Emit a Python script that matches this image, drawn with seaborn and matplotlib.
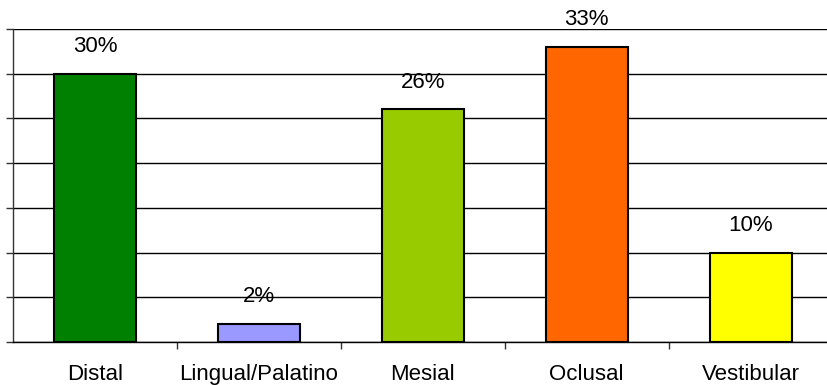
import matplotlib
matplotlib.use("Agg")
import matplotlib.pyplot as plt
import seaborn as sns
import pandas as pd
from matplotlib.ticker import MultipleLocator, FixedLocator

categories = ["Distal", "Lingual/Palatino", "Mesial", "Oclusal", "Vestibular"]
values = [30, 2, 26, 33, 10]
labels = ["30%", "2%", "26%", "33%", "10%"]
colors = ["#008000", "#9999FF", "#99CC00", "#FF6600", "#FFFF00"]

df = pd.DataFrame({"cat": categories, "val": values})

sns.set_theme(style="white")
plt.rcParams["font.family"] = ["Liberation Sans", "DejaVu Sans"]

fig = plt.figure(figsize=(8.27, 3.85), dpi=100)
W, H = 827, 385
left, right, top, bottom = 13, 832.5, 29, 342
ax = fig.add_axes([left / W, 1 - bottom / H, (right - left) / W, (bottom - top) / H])

sns.barplot(data=df, x="cat", y="val", hue="cat", palette=colors, legend=False,
            width=0.5, edgecolor="black", linewidth=1.5, saturation=1, ax=ax, zorder=3)

ax.set_xlim(-0.5, 4.5)
ax.set_ylim(0, 35)
ax.yaxis.set_major_locator(MultipleLocator(5))
ax.grid(axis="y", color="black", linewidth=1.0, zorder=0)
ax.set_axisbelow(True)
ax.set_yticklabels([])
ax.tick_params(axis="y", which="major", direction="out", length=5, width=1, color="#333333", left=True)

# category labels centered, tick marks at category boundaries
ax.tick_params(axis="x", which="major", length=0, pad=16, labelsize=16, labelcolor="black")
ax.xaxis.set_minor_locator(FixedLocator([0.5, 1.5, 2.5, 3.5, 4.5]))
ax.tick_params(axis="x", which="minor", direction="out", length=5, width=1, color="#333333", bottom=True)
ax.set_xlabel("")
ax.set_ylabel("")

for s in ["top", "right"]:
    ax.spines[s].set_visible(False)
ax.spines["left"].set_color("#333333")
ax.spines["bottom"].set_color("black")
ax.spines["left"].set_linewidth(1)
ax.spines["bottom"].set_linewidth(1)

for i, (v, lab) in enumerate(zip(values, labels)):
    ax.annotate(lab, (i, v), xytext=(0, 12), textcoords="offset points",
                ha="center", va="bottom", fontsize=16, color="black")

fig.savefig("out.png", dpi=100)
